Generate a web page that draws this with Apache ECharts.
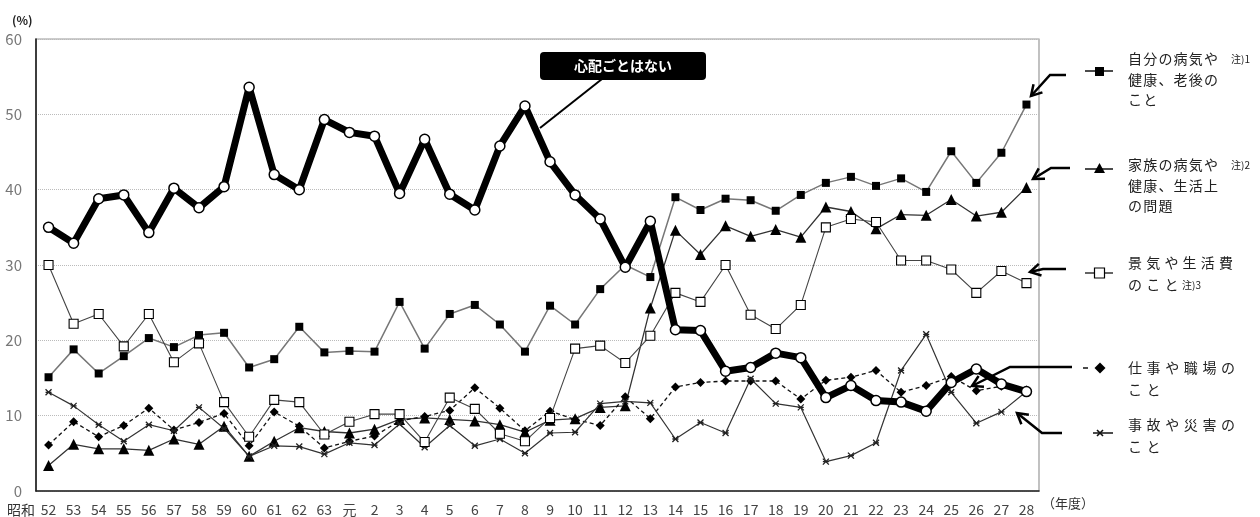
<!DOCTYPE html>
<html>
<head>
<meta charset="utf-8">
<script src="https://cdn.jsdelivr.net/npm/echarts@6/dist/echarts.min.js"></script>
<style>
  html, body { margin: 0; padding: 0; background: #fff; }
  #chart { width: 1260px; height: 517px; }
</style>
</head>
<body>
<div id="chart"></div>
<script>
// 年度（昭和52年度〜平成28年度）
const years = ['52','53','54','55','56','57','58','59','60','61',
  '62','63','元','2','3','4','5','6','7','8','9','10',
  '11','12','13','14','15','16','17','18','19','20',
  '21','22','23','24','25','26','27','28'];

// 心配ごとはない
const noWorry = [35.0,32.9,38.8,39.3,34.3,40.2,37.6,40.4,53.6,42.0,
  40.0,49.3,47.6,47.1,39.5,46.7,39.4,37.3,45.8,51.1,43.7,39.3,
  36.1,29.7,35.8,21.4,21.3,15.9,16.4,18.3,17.7,12.4,
  14.0,12.0,11.8,10.6,14.4,16.2,14.2,13.2];

// 自分の病気や健康、老後のこと
const ownHealth = [15.1,18.8,15.6,17.9,20.3,19.1,20.7,21.0,16.4,17.5,
  21.8,18.4,18.6,18.5,25.1,18.9,23.5,24.7,22.1,18.5,24.6,22.1,
  26.8,30.0,28.4,39.0,37.3,38.8,38.6,37.2,39.3,40.9,
  41.7,40.5,41.5,39.7,45.1,40.9,44.9,51.3];

// 家族の病気や健康、生活上の問題
const familyHealth = [3.4,6.2,5.6,5.6,5.4,6.9,6.2,8.6,4.6,6.6,
  8.4,7.9,7.7,8.2,9.5,9.7,9.5,9.3,8.8,7.8,9.4,9.6,
  11.1,11.3,24.3,34.6,31.4,35.2,33.8,34.7,33.7,37.7,
  37.1,34.8,36.7,36.6,38.7,36.5,37.0,40.3];

// 景気や生活費のこと
const economy = [30.0,22.2,23.5,19.2,23.5,17.1,19.6,11.8,7.2,12.1,
  11.8,7.5,9.2,10.2,10.2,6.5,12.4,10.9,7.6,6.6,9.7,18.9,
  19.3,17.0,20.6,26.3,25.1,30.0,23.4,21.5,24.7,35.0,
  36.1,35.7,30.6,30.6,29.4,26.3,29.2,27.6];

// 仕事や職場のこと
const work = [6.1,9.2,7.2,8.7,11.0,8.1,9.1,10.3,6.0,10.5,
  8.6,5.7,6.6,7.3,9.3,9.9,10.7,13.7,11.0,8.0,10.6,9.5,
  8.7,12.5,9.6,13.8,14.4,14.6,14.6,14.6,12.2,14.7,
  15.1,16.0,13.1,14.0,15.2,13.3,13.9,13.4];

// 事故や災害のこと
const accident = [13.1,11.3,8.8,6.6,8.8,8.0,11.1,8.3,4.6,6.0,
  5.9,4.9,6.4,6.1,8.9,5.8,8.7,6.0,6.9,5.0,7.7,7.8,
  11.6,11.9,11.7,6.9,9.1,7.7,14.9,11.6,11.1,3.9,
  4.7,6.4,16.0,20.8,13.1,9.0,10.5,13.2];

const yTicks = [0, 10, 20, 30, 40, 50, 60];

const JP = '"Noto Sans CJK JP", "Noto Sans", sans-serif';
const STAR = 'path://M0,0L10,10M10,0L0,10M0,5L10,5';

// 文字間隔つきの1行テキスト（1文字ずつ配置）
function spaced(str, x, y, size, gap) {
  const out = [];
  [...str].forEach((ch, i) => {
    out.push({
      type: 'text', z: 50,
      x: x + i * (size + gap), y: y,
      style: {
        text: ch, fontFamily: JP, fontSize: size, fill: '#222',
        align: 'left', verticalAlign: 'middle'
      }
    });
  });
  return out;
}

function note(str, x, y) {
  return {
    type: 'text', z: 50, x: x, y: y,
    style: { text: str, fontFamily: JP, fontSize: 10, fill: '#222',
      align: 'left', verticalAlign: 'middle' }
  };
}

function seg(x1, y1, x2, y2, w, dash) {
  return { type: 'line', z: 45, shape: { x1: x1, y1: y1, x2: x2, y2: y2 },
    style: { stroke: '#111', lineWidth: w || 1.3, lineDash: dash || null } };
}

// 折れ線＋開いた矢じり
function arrow(points) {
  const n = points.length;
  const [hx, hy] = points[n - 1];
  const [px, py] = points[n - 2];
  const len = Math.hypot(hx - px, hy - py);
  const dx = (hx - px) / len, dy = (hy - py) / len;
  const L = 12, a = Math.PI / 6;
  const w1 = [hx - L * (dx * Math.cos(a) - dy * Math.sin(a)), hy - L * (dy * Math.cos(a) + dx * Math.sin(a))];
  const w2 = [hx - L * (dx * Math.cos(-a) - dy * Math.sin(-a)), hy - L * (dy * Math.cos(-a) + dx * Math.sin(-a))];
  const st = { stroke: '#000', lineWidth: 2.5, fill: null, lineJoin: 'miter' };
  return [
    { type: 'polyline', z: 40, shape: { points: points }, style: st },
    { type: 'polyline', z: 40, shape: { points: [w1, [hx, hy], w2] }, style: st }
  ];
}

const graphics = [];

// 単位・元号・年度
graphics.push({ type: 'text', z: 50, x: 12, y: 20,
  style: { text: '(%)', fontFamily: JP, fontSize: 12, fontWeight: 'bold', fill: '#222', align: 'left', verticalAlign: 'middle' } });
graphics.push({ type: 'text', z: 50, x: 7, y: 510,
  style: { text: '昭和', fontFamily: JP, fontSize: 14, fill: '#333', align: 'left', verticalAlign: 'middle' } });
graphics.push({ type: 'text', z: 50, x: 1042, y: 503,
  style: { text: '（年度）', fontFamily: JP, fontSize: 13, fill: '#333', align: 'left', verticalAlign: 'middle' } });

// 吹き出し「心配ごとはない」
graphics.push({ type: 'line', z: 40, shape: { x1: 602, y1: 79, x2: 540, y2: 128 },
  style: { stroke: '#000', lineWidth: 2 } });
graphics.push({ type: 'rect', z: 41, shape: { x: 540, y: 52, width: 166, height: 28, r: 4 },
  style: { fill: '#000' } });
graphics.push({ type: 'text', z: 42, x: 623, y: 66,
  style: { text: '心配ごとはない', fontFamily: JP, fontSize: 14, fontWeight: 'bold', fill: '#fff', align: 'center', verticalAlign: 'middle' } });

// 引き出し矢印
graphics.push(...arrow([[1066, 75], [1050, 75], [1031, 96]]));
graphics.push(...arrow([[1070, 168], [1051, 168], [1033, 179]]));
graphics.push(...arrow([[1066, 269], [1043, 269], [1030, 272]]));
graphics.push(...arrow([[1072, 367], [1010, 367], [972, 386]]));
graphics.push(...arrow([[1062, 433], [1042, 433], [1017, 413]]));

// 凡例マーカー
graphics.push(seg(1085, 71, 1113, 71, 1.5));
graphics.push({ type: 'rect', z: 46, shape: { x: 1095, y: 67, width: 9, height: 9 }, style: { fill: '#000' } });
graphics.push(seg(1085, 169, 1113, 169, 1.5));
graphics.push({ type: 'polygon', z: 46, shape: { points: [[1099.5, 163], [1094, 173], [1105, 173]] }, style: { fill: '#000' } });
graphics.push(seg(1085, 273, 1113, 273, 1.3));
graphics.push({ type: 'rect', z: 46, shape: { x: 1094.5, y: 268, width: 10, height: 10 }, style: { fill: '#fff', stroke: '#000', lineWidth: 1.2 } });
graphics.push(seg(1083, 368, 1088, 368, 1.5));
graphics.push({ type: 'polygon', z: 46, shape: { points: [[1100, 362.5], [1105.5, 368], [1100, 373.5], [1094.5, 368]] }, style: { fill: '#000' } });
graphics.push(seg(1093, 433, 1113, 433, 1.5));
graphics.push(seg(1097, 430, 1103, 436, 1.6));
graphics.push(seg(1103, 430, 1097, 436, 1.6));

// 凡例テキスト
graphics.push(...spaced('自分の病気や', 1128, 59, 14, 1.2));
graphics.push(note('注)1', 1231, 59));
graphics.push(...spaced('健康、老後の', 1128, 80, 14, 1.2));
graphics.push(...spaced('こと', 1128, 100, 14, 1.2));

graphics.push(...spaced('家族の病気や', 1128, 165, 14, 1.2));
graphics.push(note('注)2', 1231, 165));
graphics.push(...spaced('健康、生活上', 1128, 186, 14, 1.2));
graphics.push(...spaced('の問題', 1128, 206, 14, 1.2));

graphics.push(...spaced('景気や生活費', 1128, 263, 14, 4.2));
graphics.push(...spaced('のこと', 1128, 285, 14, 4.2));
graphics.push(note('注)3', 1182, 285));

graphics.push(...spaced('仕事や職場の', 1128, 368, 14, 4.6));
graphics.push(...spaced('こと', 1128, 390, 14, 4.6));

graphics.push(...spaced('事故や災害の', 1128, 425, 14, 4.6));
graphics.push(...spaced('こと', 1128, 447, 14, 4.6));

const chart = echarts.init(document.getElementById('chart'), null, { renderer: 'canvas' });

chart.setOption({
  animation: false,
  backgroundColor: '#fff',
  grid: {
    left: 36, right: 221, top: 39, bottom: 22,
    show: true, borderColor: '#999', borderWidth: 1.2, backgroundColor: 'transparent'
  },
  xAxis: {
    type: 'category',
    data: years,
    boundaryGap: true,
    axisLine: { lineStyle: { color: '#222', width: 1.5 } },
    axisTick: { show: false },
    axisLabel: { color: '#444', fontSize: 14, fontFamily: JP, margin: 12, interval: 0 },
    splitLine: { show: false }
  },
  yAxis: {
    type: 'value',
    min: yTicks[0], max: yTicks[yTicks.length - 1], interval: 10,
    axisLine: { show: true, lineStyle: { color: '#111', width: 1.5 } },
    axisTick: { show: false },
    axisLabel: { color: '#777', fontSize: 15, fontFamily: JP, margin: 14 },
    splitLine: { show: true, lineStyle: { color: '#bbb', type: 'dotted', width: 1 } }
  },
  graphic: graphics,
  series: [
    {
      name: '自分の病気や健康、老後のこと', type: 'line', data: ownHealth, z: 3,
      symbol: 'rect', symbolSize: 8,
      itemStyle: { color: '#000' },
      lineStyle: { color: '#777', width: 1.5 }
    },
    {
      name: '家族の病気や健康、生活上の問題', type: 'line', data: familyHealth, z: 3,
      symbol: 'triangle', symbolSize: 11,
      itemStyle: { color: '#000' },
      lineStyle: { color: '#333', width: 1.3 }
    },
    {
      name: '景気や生活費のこと', type: 'line', data: economy, z: 4,
      symbol: 'rect', symbolSize: 9, showAllSymbol: true,
      itemStyle: { color: '#fff', borderColor: '#000', borderWidth: 1.1 },
      lineStyle: { color: '#444', width: 1.1 }
    },
    {
      name: '仕事や職場のこと', type: 'line', data: work, z: 3,
      symbol: 'diamond', symbolSize: 9,
      itemStyle: { color: '#000' },
      lineStyle: { color: '#111', width: 1.3, type: [4, 3] }
    },
    {
      name: '事故や災害のこと', type: 'line', data: accident, z: 3,
      symbol: STAR, symbolSize: 6,
      itemStyle: { color: '#222', borderColor: '#222', borderWidth: 1.3 },
      lineStyle: { color: '#333', width: 1.2 }
    },
    {
      name: '心配ごとはない', type: 'line', data: noWorry, z: 6,
      symbol: 'circle', symbolSize: 10,
      itemStyle: { color: '#fff', borderColor: '#000', borderWidth: 1.5 },
      lineStyle: { color: '#000', width: 7, join: 'round' }
    }
  ]
});
</script>
</body>
</html>
